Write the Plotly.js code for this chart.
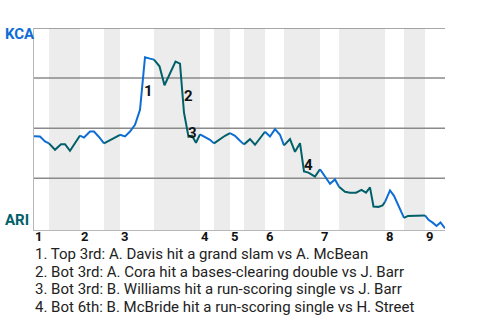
<!DOCTYPE html>
<html>
<head>
<meta charset="utf-8">
<script src="https://cdn.plot.ly/plotly-3.0.1.min.js"></script>
<style>
html,body{margin:0;padding:0;background:#fff;}
#chart{width:480px;height:320px;}
</style>
</head>
<body>
<div id="chart"></div>
<script>
// Game progress (plate-appearance scale) and KCA win probability
var pa = [0, 1.2, 2.2, 3.0, 4.2, 5.4, 6.2, 7.2, 8.2, 9.2,
  10.0, 11.2, 12.0, 13.0, 14.0, 15.2, 16.2, 17.2, 18.2, 19.2,
  20.2, 21.2, 22.2, 23.2, 24.0, 25.1, 26.1, 27.2, 28.3, 29.2,
  30.0, 30.9, 31.6, 32.4, 33.2, 34.4, 35.2, 36.0, 37.2, 38.2,
  39.2, 40.2, 41.2, 42.0, 43.2, 44.2, 45.2, 46.2, 47.2, 48.2,
  49.2, 50.0, 51.2, 52.2, 53.2, 54.0, 54.9, 56.2, 57.2, 58.2,
  59.2, 60.2, 61.0, 62.2, 63.2, 64.4, 65.5, 66.4, 67.2, 67.9,
  68.9, 69.7, 70.2, 71.2, 72.0, 73.0, 74.0, 74.8, 76.4, 78.2,
  78.9, 79.8, 80.5, 81.3, 82.2];
var winProb = [0.459, 0.458, 0.434, 0.424, 0.392, 0.420, 0.420, 0.387, 0.424, 0.463,
  0.453, 0.483, 0.483, 0.456, 0.424, 0.439, 0.454, 0.467, 0.459, 0.483,
  0.517, 0.592, 0.854, 0.847, 0.842, 0.809, 0.714, 0.772, 0.832, 0.822,
  0.577, 0.457, 0.462, 0.427, 0.469, 0.454, 0.442, 0.424, 0.447, 0.462,
  0.475, 0.462, 0.437, 0.419, 0.445, 0.417, 0.448, 0.482, 0.458, 0.495,
  0.467, 0.414, 0.445, 0.382, 0.425, 0.284, 0.278, 0.258, 0.295, 0.258,
  0.222, 0.244, 0.207, 0.182, 0.178, 0.178, 0.192, 0.178, 0.204, 0.109,
  0.107, 0.114, 0.132, 0.189, 0.162, 0.109, 0.052, 0.062, 0.063, 0.064,
  0.042, 0.027, 0.012, 0.029, 0.000];
// Half-inning start points (top 1st, bot 1st, top 2nd, ...) and game end
var halfStarts = [0, 3.0, 9.2, 14.0, 17.2, 24.0, 33.2, 36.0, 39.2, 42.0, 46.2, 50.0, 57.2, 61.0, 70.2, 74.0, 78.2];
var gameEnd = 82.2;
var inningLabels = ['1', '2', '3', '4', '5', '6', '7', '8', '9'];
var gridVals = [0.25, 0.5, 0.75, 1.0];
var teams = ['KCA', 'ARI'];
var eventPa = [22.2, 30.0, 30.9, 54.0];
var eventLabels = ['1', '2', '3', '4'];
var notes = [
  '1. Top 3rd: A. Davis hit a grand slam vs A. McBean',
  '2. Bot 3rd: A. Cora hit a bases-clearing double vs J. Barr',
  '3. Bot 3rd: B. Williams hit a run-scoring single vs J. Barr',
  '4. Bot 6th: B. McBride hit a run-scoring single vs H. Street'
];

var BLUE = '#0f6dd6', TEAL = '#00606a';
var FONT = 'Roboto, "Open Sans", Arial, sans-serif';

var traces = [];
var bounds = halfStarts.concat([gameEnd]);
for (var h = 0; h < halfStarts.length; h++) {
  var a = bounds[h], b = bounds[h + 1];
  var xs = [], ys = [];
  for (var i = 0; i < pa.length; i++) {
    if (pa[i] >= a - 1e-6 && pa[i] <= b + 1e-6) { xs.push(pa[i]); ys.push(winProb[i]); }
  }
  traces.push({x: xs, y: ys, type: 'scatter', mode: 'lines', hoverinfo: 'skip',
    line: {color: h % 2 === 0 ? BLUE : TEAL, width: 2}, showlegend: false});
}

var shapes = [];
for (var h = 1; h < halfStarts.length; h += 2) {
  shapes.push({type: 'rect', xref: 'x', yref: 'paper', x0: bounds[h], x1: bounds[h + 1], y0: 0, y1: 1,
    fillcolor: '#ececec', line: {width: 0}, layer: 'below'});
}
gridVals.forEach(function (g) {
  shapes.push({type: 'line', xref: 'paper', yref: 'y', x0: 0, x1: 1, y0: g, y1: g,
    line: {color: '#8a8a8a', width: 1.5}, layer: 'below'});
});

var annotations = [];
annotations.push({xref: 'paper', yref: 'y', x: -31 / 411, y: 0.968, xanchor: 'left', yanchor: 'middle',
  text: teams[0], showarrow: false, font: {family: FONT, size: 15, color: BLUE, weight: 'bold'}});
annotations.push({xref: 'paper', yref: 'y', x: -31 / 411, y: 0.039, xanchor: 'left', yanchor: 'middle',
  text: teams[1], showarrow: false, font: {family: FONT, size: 15, color: TEAL, weight: 'bold'}});
for (var h = 0, k = 0; h < halfStarts.length; h += 2, k++) {
  annotations.push({xref: 'x', yref: 'paper', x: halfStarts[h], y: 0, xanchor: 'left', yanchor: 'middle',
    yshift: -6, xshift: -1, text: inningLabels[k], showarrow: false,
    font: {family: FONT, size: 13, color: '#111', weight: 'bold'}});
}
eventPa.forEach(function (e, k) {
  var i = pa.indexOf(e);
  annotations.push({xref: 'x', yref: 'y', x: (pa[i] + pa[i - 1]) / 2, y: (winProb[i] + winProb[i - 1]) / 2,
    xshift: 6, yshift: -8, text: eventLabels[k], showarrow: false,
    font: {family: FONT, size: 15, color: '#111', weight: 'bold'}});
});
notes.forEach(function (t, k) {
  annotations.push({xref: 'paper', yref: 'paper', x: 0, y: 0, xanchor: 'left', yanchor: 'middle',
    yshift: -24 - k * 17.6, xshift: -1, text: t, showarrow: false, align: 'left',
    font: {family: FONT, size: 15, color: '#222'}});
});

var layout = {
  width: 480, height: 320,
  margin: {l: 34, r: 35, t: 28, b: 90},
  paper_bgcolor: '#fff', plot_bgcolor: '#fff',
  font: {family: FONT},
  xaxis: {range: [0, gameEnd], showgrid: false, zeroline: false, showline: true, linecolor: '#b8b8b8', linewidth: 1,
    showticklabels: false, ticks: '', fixedrange: true},
  yaxis: {range: [-0.0085, 1], showgrid: false, zeroline: false, showline: true, linecolor: '#b8b8b8', linewidth: 1,
    showticklabels: false, ticks: '', fixedrange: true},
  shapes: shapes,
  annotations: annotations,
  showlegend: false
};

Plotly.newPlot('chart', traces, layout, {staticPlot: true, displayModeBar: false});
</script>
</body>
</html>
